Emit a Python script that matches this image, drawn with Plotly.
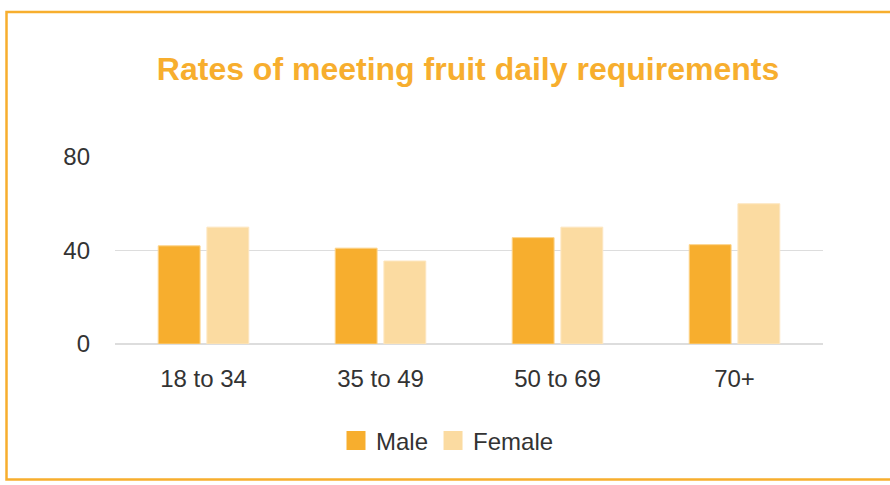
import plotly.graph_objects as go

ORANGE = "#F7AE2E"
LIGHT = "#FBDBA1"

age_groups = ["18 to 34", "35 to 49", "50 to 69", "70+"]
male = [42, 41, 45.5, 42.5]
female = [50, 35.5, 50, 60]
y_ticks = [0, 40, 80]

# plot area in page pixels
L, R, T, B = 115, 67, 157, 141
W, H = 890, 485
pw, ph = W - L - R, H - T - B


def px_x(x):
    return (x - L) / pw


def px_y(y):
    return (H - B - y) / ph


fig = go.Figure()
fig.add_trace(go.Bar(x=age_groups, y=male, name="Male", showlegend=False,
                     marker=dict(color=ORANGE, line=dict(color="#FCD38A", width=1))))
fig.add_trace(go.Bar(x=age_groups, y=female, name="Female", showlegend=False,
                     marker=dict(color=LIGHT, line=dict(color="#FDE6C0", width=1))))

# bigger square legend keys than the default bar ones
for name, col in [("Male", ORANGE), ("Female", LIGHT)]:
    fig.add_trace(go.Scatter(x=[None], y=[None], mode="markers", name=name,
                             marker=dict(symbol="square", size=16, color=col,
                                         line=dict(color=col, width=3))))

fig.update_layout(
    width=W, height=H,
    paper_bgcolor="white", plot_bgcolor="white",
    font=dict(family="Arial, Liberation Sans", color="#333333", size=24),
    margin=dict(l=L, r=R, t=T, b=B),
    title=dict(text="<b>Rates of meeting fruit daily requirements</b>",
               font=dict(size=32, color=ORANGE),
               x=px_x(468), xref="paper", xanchor="center",
               y=1 - 69 / H, yanchor="middle"),
    barmode="group", bargap=0.45, bargroupgap=0.14,
    showlegend=True,
    legend=dict(orientation="h", x=px_x(336), xanchor="left",
                y=px_y(441), yanchor="middle",
                font=dict(size=24, color="#333333"), traceorder="normal"),
    # frame runs off the right edge, as in the source image
    shapes=[dict(type="path", xref="paper", yref="paper",
                 path=(f"M {px_x(920)},{px_y(12)} L {px_x(6.5)},{px_y(12)} "
                       f"L {px_x(6.5)},{px_y(479.5)} L {px_x(920)},{px_y(479.5)}"),
                 line=dict(color=ORANGE, width=2.5), layer="below")],
)
fig.update_xaxes(showgrid=False, ticks="", ticklabelstandoff=18,
                 tickfont=dict(size=24))
fig.update_yaxes(range=[0, 80], tickvals=y_ticks, gridcolor="#DDDDDD",
                 zeroline=True, zerolinecolor="#DDDDDD", zerolinewidth=2,
                 ticks="", ticklabelstandoff=24, tickfont=dict(size=24))

fig.write_html("out.html", config={"displayModeBar": False},
               post_script="document.body.style.margin='0';")
